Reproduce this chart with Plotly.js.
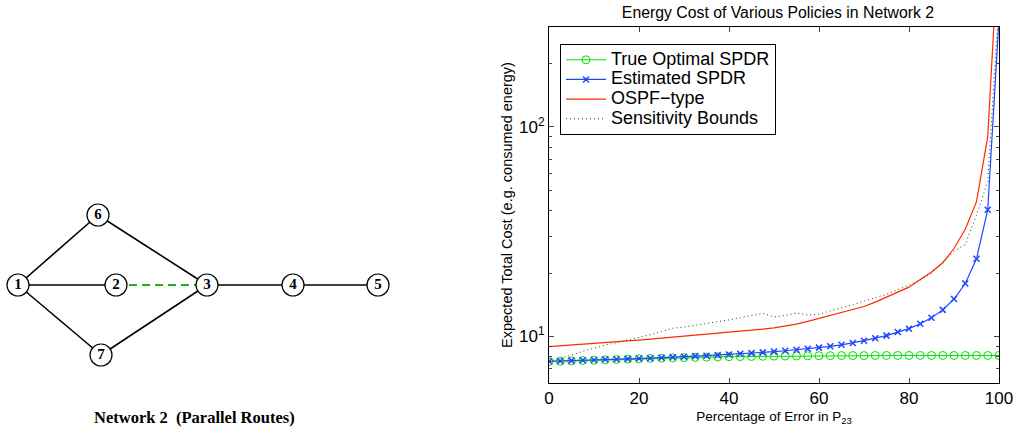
<!DOCTYPE html>
<html><head><meta charset="utf-8">
<script src="https://cdn.plot.ly/plotly-3.0.1.min.js"></script>
<style>html,body{margin:0;padding:0;background:#fff}#chart{width:1018px;height:435px}</style>
</head><body><div id="chart"></div>
<script>
// ---- chart data ----
const errorPct = [0,2.5,5,7.5,10,12.5,15,17.5,20,22.5,25,27.5,30,32.5,35,37.5,40,42.5,45,47.5,50,
  52.5,55,57.5,60,62.5,65,67.5,70,72.5,75,77.5,80,82.5,85,87.5,90,92.5,95,97.5,100];
const trueOptimal = [7.59,7.62,7.65,7.68,7.71,7.74,7.77,7.80,7.83,7.86,7.88,7.91,7.93,7.95,7.97,7.99,8.01,8.02,8.03,8.05,8.06,
  8.07,8.08,8.09,8.10,8.10,8.11,8.11,8.11,8.12,8.12,8.12,8.12,8.12,8.12,8.12,8.12,8.12,8.12,8.12,8.12];
const estimated = [7.62,7.64,7.67,7.70,7.73,7.76,7.79,7.82,7.85,7.88,7.92,7.96,8.01,8.06,8.10,8.15,8.21,8.27,8.33,8.40,8.47,
  8.55,8.64,8.74,8.85,8.98,9.13,9.32,9.55,9.82,10.1,10.5,10.9,11.5,12.3,13.4,15.1,17.9,23.5,40.3,330];
const ospf = [8.95,9.02,9.10,9.18,9.27,9.35,9.44,9.53,9.62,9.72,9.83,9.93,10.03,10.13,10.23,10.34,10.45,10.57,10.70,10.84,11.0,
  11.2,11.45,11.8,12.2,12.6,13.0,13.45,13.9,14.6,15.4,16.3,17.2,18.7,20.3,22.5,26.3,32.5,44,90,850];
const sensitivity = [7.6,7.85,8.15,8.5,8.8,9.1,9.35,9.6,9.9,10.2,10.55,10.95,11.1,11.3,11.5,11.75,12.0,12.3,12.6,12.9,12.4,
  12.6,12.95,12.65,12.8,13.2,13.7,14.2,14.8,15.3,15.9,16.7,17.6,18.6,20.0,22.5,25.5,27.5,38,55,400];
const seriesNames = ['True Optimal SPDR','Estimated SPDR','OSPF\u2212type','Sensitivity Bounds'];
const xTicks = [0,20,40,60,80,100];
const yTicks = [10,100];
const yTickText = ['10<sup>1</sup>','10<sup>2</sup>'];

// ---- network diagram data ----
const nodeIds = ['1','2','3','4','5','6','7'];
const nodeX = [18,116,207,293,378,98,101];
const nodeY = [285,285,285,285,285,215,355];
const solidEdges = [[1,6],[6,3],[1,2],[1,7],[7,3],[3,4],[4,5]];
const dashedEdges = [[2,3]];
const caption = 'Network 2 &nbsp;(Parallel Routes)';

function edgeXY(list){
  const xs=[],ys=[];
  list.forEach(([a,b])=>{
    xs.push(nodeX[a-1],nodeX[b-1],null);
    ys.push(nodeY[a-1],nodeY[b-1],null);
  });
  return {xs,ys};
}
const se = edgeXY(solidEdges), de = edgeXY(dashedEdges);

const W=1018,H=435;
const px0=549, px1=999, py0=27, py1=383;
const legName = s => '<span style="font-size:18px">'+s+'</span>';

const traces = [
  {x:errorPct,y:trueOptimal,name:legName(seriesNames[0]),mode:'lines+markers',
   line:{color:'#00e000',width:1},marker:{symbol:'circle-open',size:8,color:'#00e000',line:{width:1}}},
  {x:errorPct,y:estimated,name:legName(seriesNames[1]),mode:'lines+markers',
   line:{color:'#1f45ff',width:1.2},marker:{symbol:'x-thin-open',size:6,color:'#1f45ff',line:{width:1.5,color:'#1f45ff'}}},
  {x:errorPct,y:ospf,name:legName(seriesNames[2]),mode:'lines',line:{color:'#ff2a00',width:1.2}},
  {x:errorPct,y:sensitivity,name:legName(seriesNames[3]),mode:'lines',line:{color:'#333',width:1,dash:'1px,3px'}},
  {x:se.xs,y:se.ys,xaxis:'x2',yaxis:'y2',mode:'lines',showlegend:false,line:{color:'#000',width:1.6}},
  {x:de.xs,y:de.ys,xaxis:'x2',yaxis:'y2',mode:'lines',showlegend:false,line:{color:'#1fb21f',width:2,dash:'8px,5px'}},
  {x:nodeX,y:nodeY,xaxis:'x2',yaxis:'y2',mode:'markers+text',showlegend:false,
   text:nodeIds.map(s=>'<b>'+s+'</b>'),textposition:'middle center',
   textfont:{family:'Liberation Serif',size:15,color:'#000'},
   marker:{size:22,color:'#fff',line:{color:'#000',width:1.2}}}
];

const fontSans = 'Liberation Sans, Arial, sans-serif';
const layout = {
  width:W,height:H,margin:{l:0,r:0,t:0,b:0,pad:0},
  paper_bgcolor:'#fff',plot_bgcolor:'#fff',
  font:{family:fontSans,color:'#000'},
  title:{text:'Energy Cost of Various Policies in Network 2',font:{size:15.8,family:fontSans},
    x:778/W,xanchor:'center',y:1-12/H,yanchor:'middle',xref:'paper',yref:'paper'},
  xaxis:{domain:[px0/W,px1/W],range:[0,100],tickvals:xTicks,ticks:'inside',ticklen:5,
    showline:true,linecolor:'#000',linewidth:1,mirror:'ticks',showgrid:false,zeroline:false,
    tickfont:{size:17},
    title:{text:'Percentage of Error in P<sub>23</sub>',font:{size:13.5},standoff:4}},
  yaxis:{domain:[1-py1/H,1-py0/H],type:'log',range:[Math.log10(6),Math.log10(300)],
    tickvals:yTicks,ticktext:yTickText,ticks:'inside',ticklen:5,
    minor:{ticks:'inside',ticklen:3,tickvals:[6,7,8,9,20,30,40,50,60,70,80,90,200,300],showgrid:false},
    showline:true,linecolor:'#000',linewidth:1,mirror:'ticks',showgrid:false,zeroline:false,
    tickfont:{size:17},
    title:{text:'Expected Total Cost (e.g. consumed energy)',font:{size:14.5},standoff:2}},
  xaxis2:{domain:[0,400/W],range:[0,400],visible:false,anchor:'y2'},
  yaxis2:{domain:[0,1],range:[H,0],visible:false,anchor:'x2'},
  legend:{x:560/W,y:1-44/H,xanchor:'left',yanchor:'top',bgcolor:'#fff',bordercolor:'#000',borderwidth:1,
    font:{size:12.8,family:fontSans},tracegroupgap:0,itemwidth:40},
  annotations:[{xref:'x2',yref:'y2',x:194,y:417,text:'<b>'+caption+'</b>',showarrow:false,
    font:{family:'Liberation Serif',size:16.5,color:'#000'}}],
  hovermode:false
};
Plotly.newPlot('chart',traces,layout,{staticPlot:true,displayModeBar:false});
</script></body></html>
